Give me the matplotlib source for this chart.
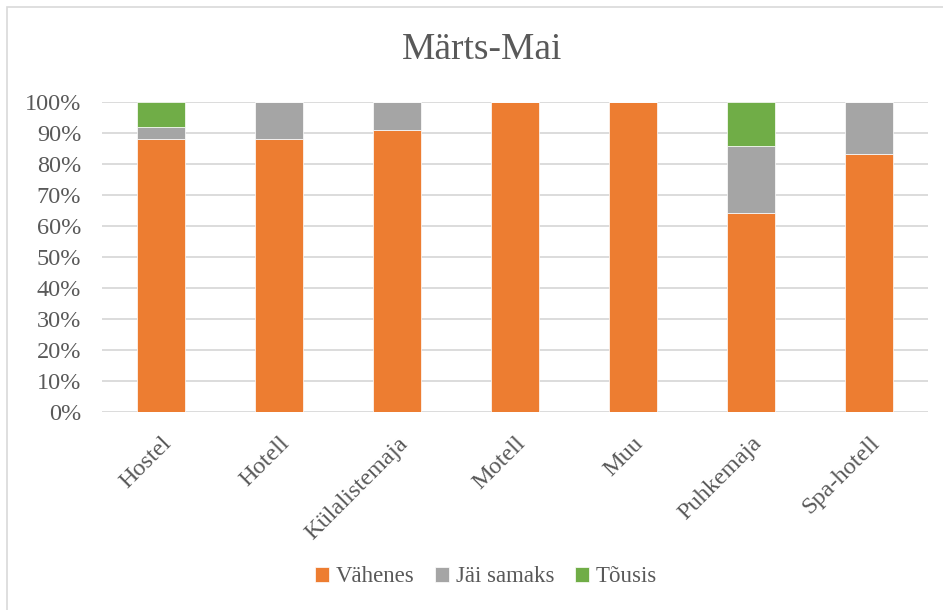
import matplotlib.pyplot as plt
import numpy as np
from matplotlib.patches import Rectangle
from matplotlib.ticker import PercentFormatter

categories = ["Hostel", "Hotell", "Külalistemaja", "Motell", "Muu", "Puhkemaja", "Spa-hotell"]
vaheneb = [88.0, 88.0, 90.9, 100.0, 100.0, 64.3, 83.3]
jai_samaks = [4.0, 12.0, 9.1, 0.0, 0.0, 21.4, 16.7]
tousis = [8.0, 0.0, 0.0, 0.0, 0.0, 14.3, 0.0]

series = [("Vähenes", vaheneb, "#ED7D31"),
          ("Jäi samaks", jai_samaks, "#A5A5A5"),
          ("Tõusis", tousis, "#70AD47")]

plt.rcParams['font.family'] = ['Liberation Serif', 'DejaVu Serif']
text_color = "#595959"

fig = plt.figure(figsize=(9.43, 6.10), dpi=100)
ax = fig.add_axes([102 / 943, 1 - 412 / 610, 826 / 943, 310 / 610])

x = np.arange(len(categories))
bottom = np.zeros(len(categories))
for name, vals, color in series:
    vals = np.array(vals)
    ax.bar(x, vals, width=0.4, bottom=bottom, color=color, label=name,
           edgecolor="white", linewidth=0.5, zorder=3)
    bottom += vals

ax.set_xlim(-0.5, len(categories) - 0.5)
ax.set_ylim(0, 100)
ax.set_yticks(np.arange(0, 101, 10))
ax.yaxis.set_major_formatter(PercentFormatter(decimals=0))
ax.grid(axis="y", color="#D9D9D9", linewidth=1.3, zorder=0)
for s in ax.spines.values():
    s.set_visible(False)
ax.tick_params(axis="y", length=0, labelsize=17.5, colors=text_color, pad=15)
ax.tick_params(axis="x", length=0, labelsize=17.5, colors=text_color, pad=15)
ax.set_xticks(x)
ax.set_xticklabels(categories, rotation=45, ha="right", rotation_mode="anchor")

fig.text(482 / 943, 1 - 50 / 610, "Märts-Mai", ha="center", va="center",
         fontsize=27, color=text_color)

fig.legend(loc="center", bbox_to_anchor=(486 / 943, 1 - 577 / 610), ncol=3,
           frameon=False, fontsize=16.5, labelcolor=text_color,
           handlelength=0.6, handleheight=0.6, handletextpad=0.3, columnspacing=0.9)

fig.patches.append(Rectangle((7 / 943, -0.1), 1.2, 1 - 7 / 610 + 0.1,
                             transform=fig.transFigure, fill=False,
                             edgecolor="#D9D9D9", linewidth=1.2))

fig.savefig("out.png", dpi=100)
